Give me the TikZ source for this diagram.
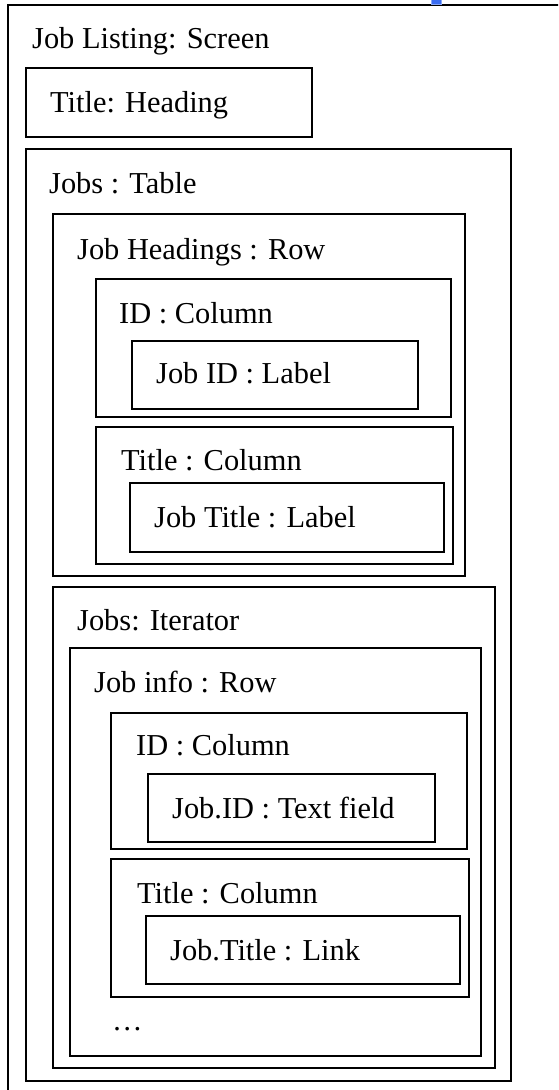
\documentclass[tikz,border=0pt]{standalone}
\usepackage{fontspec}
\setmainfont{Liberation Serif}
\definecolor{markblue}{RGB}{58,108,240}
\begin{document}
\begin{tikzpicture}[x=1pt,y=-1pt,
  frame/.style={draw=black, line width=2.2pt, rectangle, anchor=north west,
                inner sep=0pt, outer sep=0pt},
  caption/.style={anchor=base west, inner sep=0pt,
                  font=\fontsize{30.4}{36}\selectfont}]
\clip (0,0) rectangle (558,1090);
\fill[white] (0,0) rectangle (558,1090);

% screen (runs past the page edge)
\node[frame, minimum width=570pt, minimum height=1100pt] (screen) at (8,5) {};
\node[fill=markblue, draw=markblue!60, line width=0.6pt, anchor=north west,
      inner sep=0pt, outer sep=0pt, minimum width=10pt, minimum height=4.5pt]
      (marker) at (431,-0.5) {};
\node[caption] (screenlbl) at (32,48) {Job Listing: Screen};

% heading
\node[frame, minimum width=286pt, minimum height=69pt] (heading) at (26,68) {};
\node[caption] (headinglbl) at (50,112) {Title: Heading};

% table
\node[frame, minimum width=485pt, minimum height=932pt] (table) at (26,149) {};
\node[caption] (tablelbl) at (49,193) {Jobs : Table};

% heading row
\node[frame, minimum width=412pt, minimum height=362pt] (hrow) at (53,214) {};
\node[caption] (hrowlbl) at (77,259) {Job Headings : Row};

\node[frame, minimum width=355pt, minimum height=138pt] (hidcol) at (96,279) {};
\node[caption] (hidcollbl) at (119,323) {ID : Column};
\node[frame, minimum width=286pt, minimum height=68pt] (hidlabel) at (132,341) {};
\node[caption] (hidlabellbl) at (156,383) {Job ID : Label};

\node[frame, minimum width=357pt, minimum height=137pt] (htitlecol) at (96,427) {};
\node[caption] (htitlecollbl) at (121,470) {Title : Column};
\node[frame, minimum width=314pt, minimum height=69pt] (htitlelabel) at (130,483) {};
\node[caption] (htitlelabellbl) at (154,527) {Job Title : Label};

% iterator
\node[frame, minimum width=442pt, minimum height=481pt] (iter) at (53,587) {};
\node[caption] (iterlbl) at (77,630) {Jobs: Iterator};

\node[frame, minimum width=411pt, minimum height=408pt] (irow) at (70,648) {};
\node[caption] (irowlbl) at (94,692) {Job info : Row};

\node[frame, minimum width=356pt, minimum height=136pt] (iidcol) at (111,713) {};
\node[caption] (iidcollbl) at (136,755) {ID : Column};
\node[frame, minimum width=287pt, minimum height=68pt] (iidfield) at (148,774) {};
\node[caption] (iidfieldlbl) at (172,818) {Job.ID : Text field};

\node[frame, minimum width=358pt, minimum height=138pt] (ititlecol) at (111,859) {};
\node[caption] (ititlecollbl) at (137,903) {Title : Column};
\node[frame, minimum width=314pt, minimum height=68pt] (ititlelink) at (146,916) {};
\node[caption] (ititlelinklbl) at (170,960) {Job.Title : Link};

\node[caption] (more) at (112,1030) {…};
\end{tikzpicture}
\end{document}
